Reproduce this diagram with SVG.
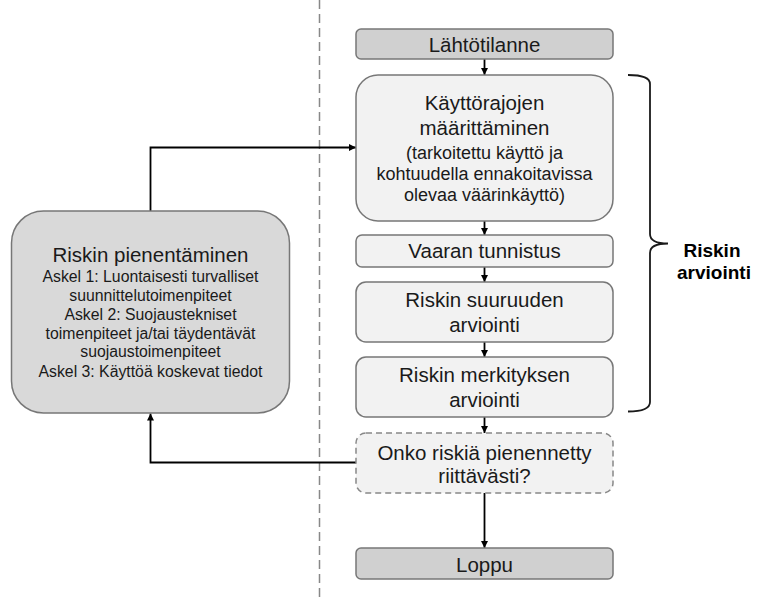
<svg xmlns="http://www.w3.org/2000/svg" width="759" height="601" viewBox="0 0 759 601">
  <defs>
    <marker id="arrow" viewBox="0 0 10 10" refX="10" refY="5" markerWidth="7" markerHeight="7" markerUnits="userSpaceOnUse" orient="auto">
      <path d="M0,0 L10,5 L0,10 z" fill="#000"/>
    </marker>
    <style>
      text { font-family: "Liberation Sans", Arial, sans-serif; fill: #1a1a1a; text-anchor: middle; }
      .big { font-size: 20.5px; }
      .small { font-size: 18px; }
      .step { font-size: 15.8px; }
      .label { font-size: 19px; font-weight: bold; fill: #000; }
      .dark { fill: #d0d0d0; stroke: #777; stroke-width: 1.5; }
      .light { fill: #f2f2f2; stroke: #777; stroke-width: 1.5; }
      .reduce { fill: #d9d9d9; stroke: #777; stroke-width: 1.5; }
      .check { fill: #f2f2f2; stroke: #888; stroke-width: 1.5; stroke-dasharray: 6 4; }
      .conn { fill: none; stroke: #000; stroke-width: 1.8; }
    </style>
  </defs>

  <!-- divider -->
  <line x1="319.5" y1="0" x2="319.5" y2="601" stroke="#888" stroke-width="1.5" stroke-dasharray="9 5"/>

  <g id="connectors">
    <line class="conn" x1="484.5" y1="59" x2="484.5" y2="75" marker-end="url(#arrow)"/>
    <line class="conn" x1="484.5" y1="221" x2="484.5" y2="235" marker-end="url(#arrow)"/>
    <line class="conn" x1="484.5" y1="267" x2="484.5" y2="282" marker-end="url(#arrow)"/>
    <line class="conn" x1="484.5" y1="342" x2="484.5" y2="357" marker-end="url(#arrow)"/>
    <line class="conn" x1="484.5" y1="417" x2="484.5" y2="433" marker-end="url(#arrow)"/>
    <line class="conn" x1="484.5" y1="493" x2="484.5" y2="548" marker-end="url(#arrow)"/>
    <polyline class="conn" points="150.5,211 150.5,147.5 356,147.5" marker-end="url(#arrow)"/>
    <polyline class="conn" points="356,462.5 150.5,462.5 150.5,413.5" marker-end="url(#arrow)"/>
  </g>

  <g id="start">
    <rect class="dark" x="356" y="29" width="257" height="30" rx="5"/>
    <text class="big" x="484.5" y="51.5">Lähtötilanne</text>
  </g>

  <g id="limits">
    <rect class="light" x="356" y="75" width="257" height="146" rx="22"/>
    <text class="big" x="484.5" y="110">Käyttörajojen</text>
    <text class="big" x="484.5" y="135">määrittäminen</text>
    <text class="small" x="484.5" y="159">(tarkoitettu käyttö ja</text>
    <text class="small" x="484.5" y="180">kohtuudella ennakoitavissa</text>
    <text class="small" x="484.5" y="201">olevaa väärinkäyttö)</text>
  </g>

  <g id="hazard">
    <rect class="light" x="356" y="235" width="257" height="32" rx="6"/>
    <text class="big" x="484.5" y="258">Vaaran tunnistus</text>
  </g>

  <g id="estimation">
    <rect class="light" x="356" y="282" width="257" height="60" rx="10"/>
    <text class="big" x="484.5" y="307">Riskin suuruuden</text>
    <text class="big" x="484.5" y="332">arviointi</text>
  </g>

  <g id="evaluation">
    <rect class="light" x="356" y="357" width="257" height="60" rx="10"/>
    <text class="big" x="484.5" y="382">Riskin merkityksen</text>
    <text class="big" x="484.5" y="407">arviointi</text>
  </g>

  <g id="decision">
    <rect class="check" x="356" y="433" width="257" height="60" rx="10"/>
    <text class="big" x="484.5" y="460">Onko riskiä pienennetty</text>
    <text class="big" x="484.5" y="483">riittävästi?</text>
  </g>

  <g id="end">
    <rect class="dark" x="356" y="548" width="257" height="31" rx="5"/>
    <text class="big" x="484.5" y="572">Loppu</text>
  </g>

  <g id="reduction">
    <rect class="reduce" x="11.5" y="211" width="278" height="202" rx="32"/>
    <text class="big" x="150.5" y="262">Riskin pienentäminen</text>
    <text class="step" x="150.5" y="282">Askel 1: Luontaisesti turvalliset</text>
    <text class="step" x="150.5" y="301">suunnittelutoimenpiteet</text>
    <text class="step" x="150.5" y="320">Askel 2: Suojaustekniset</text>
    <text class="step" x="150.5" y="338.5">toimenpiteet ja/tai täydentävät</text>
    <text class="step" x="150.5" y="357">suojaustoimenpiteet</text>
    <text class="step" x="150.5" y="377">Askel 3: Käyttöä koskevat tiedot</text>
  </g>

  <g id="assessment">
    <path d="M628,75 Q650,75 650,84 L650,234 Q650,243.5 668,243.5 Q650,243.5 650,253 L650,402 Q650,411.5 628,411.5" fill="none" stroke="#1a1a1a" stroke-width="1.8"/>
    <text class="label" x="712" y="257">Riskin</text>
    <text class="label" x="714" y="278.5">arviointi</text>
  </g>
</svg>
